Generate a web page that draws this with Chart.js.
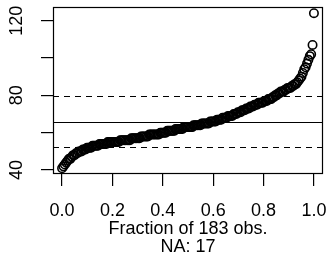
<!DOCTYPE html>
<html>
<head>
<meta charset="utf-8">
<script src="https://cdn.jsdelivr.net/npm/chart.js@4.4.1/dist/chart.umd.min.js"></script>
<style>
  html, body { margin: 0; padding: 0; background: #fff; }
  canvas { display: block; }
</style>
</head>
<body>
<canvas id="fractionPlot" width="330" height="261"></canvas>
<script>
const sortedValues = [
  41, 42, 43, 44, 45, 46, 46, 47, 48, 48,
  49, 49, 50, 50, 50, 51, 51, 51, 52, 52,
  52, 52, 53, 53, 53, 53, 53, 54, 54, 54,
  54, 54, 54, 55, 55, 55, 55, 55, 55, 55,
  55, 55, 56, 56, 56, 56, 56, 56, 56, 56,
  57, 57, 57, 57, 57, 57, 57, 58, 58, 58,
  58, 58, 58, 59, 59, 59, 59, 59, 59, 59,
  59, 60, 60, 60, 60, 60, 61, 61, 61, 61,
  61, 61, 62, 62, 62, 62, 62, 62, 63, 63,
  63, 63, 63, 63, 63, 64, 64, 64, 64, 64,
  64, 65, 65, 65, 65, 65, 65, 66, 66, 66,
  66, 66, 67, 67, 67, 67, 68, 68, 68, 68,
  69, 69, 69, 69, 70, 70, 70, 71, 71, 71,
  72, 72, 72, 73, 73, 73, 74, 74, 74, 75,
  75, 75, 76, 76, 76, 76, 77, 77, 77, 78,
  78, 78, 79, 79, 80, 80, 81, 81, 82, 82,
  82, 83, 83, 84, 84, 84, 85, 85, 86, 86,
  87, 88, 89, 90, 92, 94, 95, 97, 99, 101,
  102, 107, 124
];
const xTicks = [0, 0.2, 0.4, 0.6, 0.8, 1.0];
const xTickLabels = ['0.0', '0.2', '0.4', '0.6', '0.8', '1.0'];
const yTicks = [40, 60, 80, 100, 120];
const yTickLabels = ['40', '', '80', '', '120'];
// reference levels: lower, mean, upper
const refLevels = [52.2, 65.6, 79.8];
const refDashed = [true, false, true];
const xTitle = ['Fraction of 183 obs.', 'NA: 17'];

const FONT = '"Liberation Sans", Arial, Helvetica, sans-serif';

const points = sortedValues.map((v, i) => ({ x: i / (sortedValues.length - 1), y: v }));

// box round the plot + horizontal reference lines
const framePlugin = {
  id: 'frame',
  beforeDatasetsDraw(chart) {
    const { ctx, chartArea, scales } = chart;
    ctx.save();
    ctx.strokeStyle = '#000';
    ctx.lineWidth = 1.2;
    refLevels.forEach((lvl, i) => {
      const y = Math.round(scales.y.getPixelForValue(lvl)) + 0.5;
      ctx.setLineDash(refDashed[i] ? [6, 5] : []);
      ctx.beginPath();
      ctx.moveTo(chartArea.left, y);
      ctx.lineTo(chartArea.right, y);
      ctx.stroke();
    });
    ctx.restore();
  },
  afterDraw(chart) {
    const { ctx, chartArea } = chart;
    ctx.save();
    ctx.strokeStyle = '#000';
    ctx.lineWidth = 1.2;
    ctx.strokeRect(chartArea.left + 0.5, chartArea.top + 0.5,
      chartArea.right - chartArea.left - 1, chartArea.bottom - chartArea.top - 1);
    ctx.restore();
  }
};

new Chart(document.getElementById('fractionPlot'), {
  type: 'scatter',
  data: {
    datasets: [{
      data: points,
      pointStyle: 'circle',
      pointRadius: 4.2,
      pointBorderWidth: 1.6,
      pointBorderColor: '#000',
      pointBackgroundColor: 'rgba(0,0,0,0)',
      showLine: false
    }]
  },
  options: {
    responsive: false,
    animation: false,
    layout: { padding: { left: 3, top: 7, right: 7, bottom: 0 } },
    plugins: { legend: { display: false }, tooltip: { enabled: false }, title: { display: false } },
    scales: {
      x: {
        type: 'linear',
        min: -0.036,
        max: 1.036,
        afterBuildTicks: s => { s.ticks = xTicks.map(v => ({ value: v })); },
        afterFit: s => { s.height = 87; s.paddingLeft = 0; s.paddingRight = 0; },
        grid: { drawOnChartArea: false, drawTicks: true, tickLength: 12, color: '#000', lineWidth: 1.2 },
        border: { display: false },
        ticks: {
          color: '#000',
          padding: 14,
          maxRotation: 0,
          autoSkip: false,
          font: { family: FONT, size: 18, lineHeight: 1.2 },
          callback: (v, i) => xTickLabels[i]
        },
        title: {
          display: true,
          text: xTitle,
          color: '#000',
          font: { family: FONT, size: 18, lineHeight: '17.7px' },
          padding: { top: 0, bottom: 5 }
        }
      },
      y: {
        min: 37.9,
        max: 127.3,
        afterBuildTicks: s => { s.ticks = yTicks.map(v => ({ value: v })); },
        afterFit: s => { s.width = 50; s.paddingTop = 0; s.paddingBottom = 0; },
        grid: { drawOnChartArea: false, drawTicks: true, tickLength: 12, color: '#000', lineWidth: 1.2 },
        border: { display: false },
        ticks: {
          color: '#000',
          padding: 8.5,
          minRotation: 90,
          maxRotation: 90,
          crossAlign: 'center',
          autoSkip: false,
          font: { family: FONT, size: 18, lineHeight: 1.2 },
          callback: (v, i) => yTickLabels[i]
        }
      }
    }
  },
  plugins: [framePlugin]
});
</script>
</body>
</html>
